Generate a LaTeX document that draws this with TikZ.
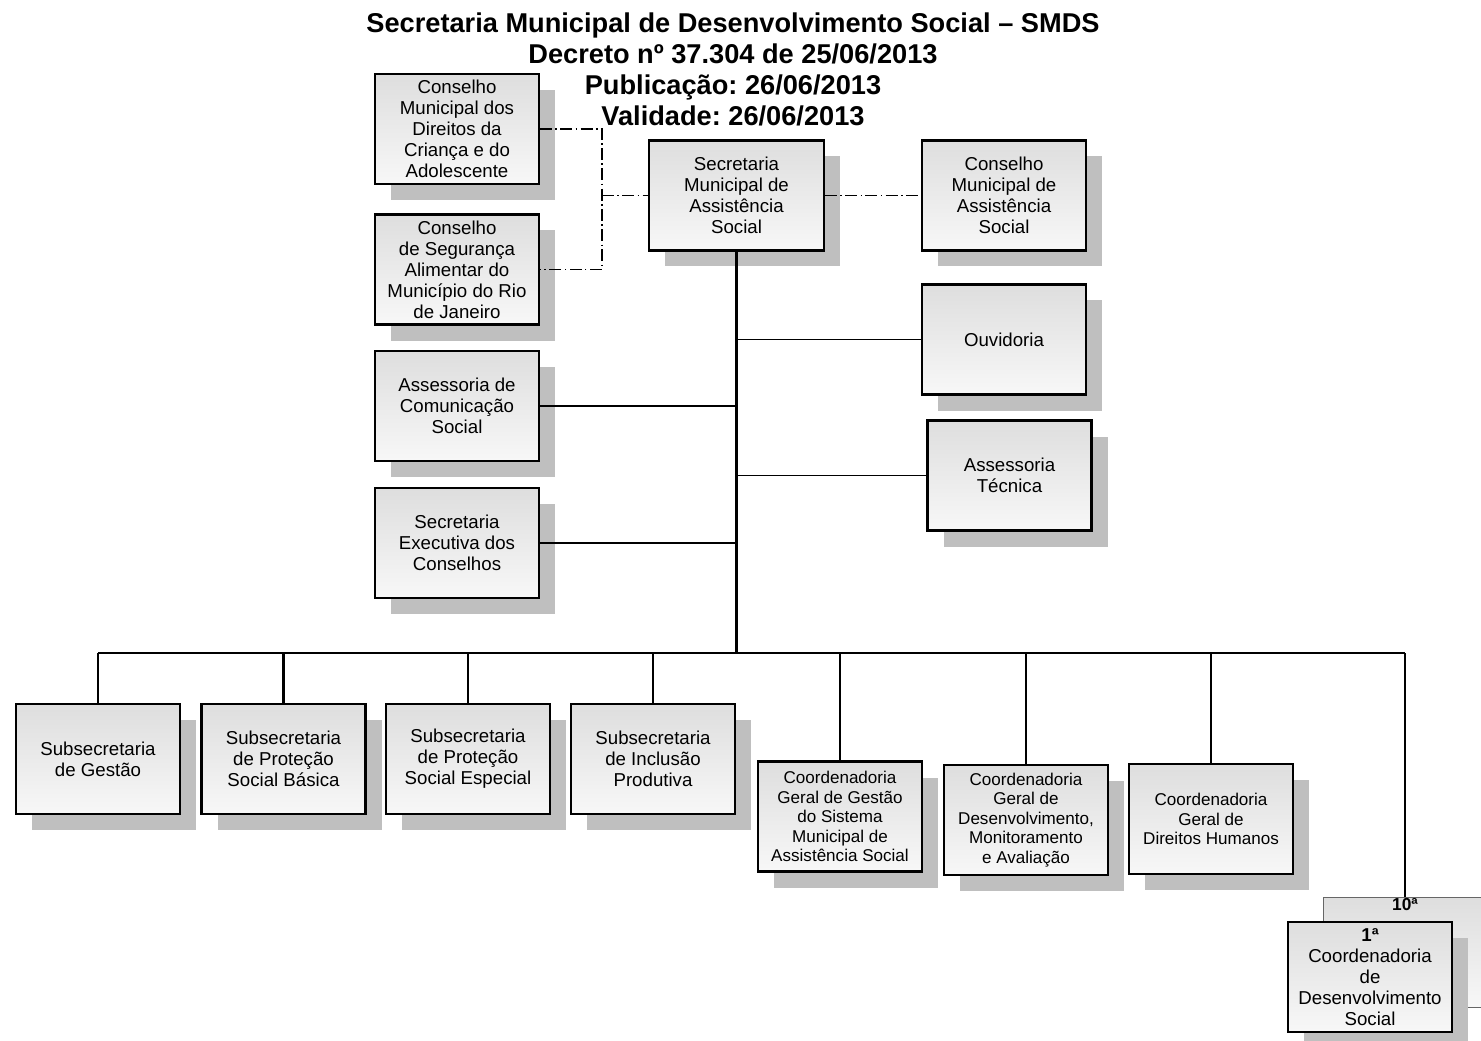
\documentclass[tikz,border=0pt]{standalone}
\usepackage{fontspec}
\setmainfont{Liberation Sans}
\usetikzlibrary{shadows}
\frenchspacing

\begin{document}
\begin{tikzpicture}[x=.75pt,y=-.75pt,
 hop/.style={draw,line width=1.6pt,top color=black!13,bottom color=black!3,
  minimum width=123pt,minimum height=82.5pt,inner sep=1pt,align=center,
  font=\fontsize{14}{15.75}\selectfont},
 khoi/.style={hop,general shadow={fill=black!25,shadow xshift=12pt,shadow yshift=-12pt}},
 nho/.style={font=\fontsize{12.8}{14.6}\selectfont},
 noi/.style={line width=1.8pt},
 nhanh/.style={line width=1.3pt},
 gach/.style={line width=1.4pt,dash pattern=on 9pt off 2.5pt on 1.2pt off 2.5pt}]
 \useasboundingbox (0,0) rectangle (1481,1041);
 \node[align=center,font=\bfseries\fontsize{20.4}{23.25}\selectfont] (tieude) at (733,69)
 {Secretaria Municipal de Desenvolvimento Social – SMDS\\Decreto nº 37.304 de 25/06/2013\\Publicação: 26/06/2013\\Validade: 26/06/2013};
 \path
 (457,129) node[khoi] (cmdca) {Conselho\\Municipal dos\\Direitos da\\Criança e do\\Adolescente} % <<< cột trái
 ++(0,140.5) node[khoi] (consea) {Conselho\\de Segurança\\Alimentar do\\Município do Rio\\de Janeiro}
 ++(0,136.5) node[khoi] (ascom) {Assessoria de\\Comunicação\\Social}
 ++(0,137) node[khoi] (secex) {Secretaria\\Executiva dos\\Conselhos}
 (736.5,195.5) node[khoi,minimum width=131pt] (smas) {Secretaria\\Municipal de\\Assistência\\Social} % <<< giữa
 (1004,195.5) node[khoi] (cmas) {Conselho\\Municipal de\\Assistência\\Social} % <<< cột phải
 ++(0,144) node[khoi] (ouv) {Ouvidoria}
 ++(5.5,136) node[khoi] (astec) {Assessoria\\Técnica};
 \path
 (98,759) node[khoi] (subg) {Subsecretaria\\de Gestão} % <<< hàng dưới
 ++(185.5,0) node[khoi] (subb) {Subsecretaria\\de Proteção\\Social Básica}
 ++(184.5,0) node[khoi] (sube) {Subsecretaria\\de Proteção\\Social Especial}
 ++(185,0) node[khoi] (subi) {Subsecretaria\\de Inclusão\\Produtiva}
 (840,816.5) node[khoi,nho] (cgg) {Coordenadoria\\Geral de Gestão\\do Sistema\\Municipal de\\Assistência Social}
 (1026,820) node[khoi,nho] (cgd) {Coordenadoria\\Geral de\\Desenvolvimento,\\Monitoramento\\e Avaliação}
 (1211,819) node[khoi,nho] (cgdh) {Coordenadoria\\Geral de\\Direitos Humanos}
 (1405,952) node[hop,line width=.6pt,draw=black!60,
  label={[anchor=north,inner sep=1pt,font=\bfseries\fontsize{13}{14}\selectfont]north:10ª}] (cds10) {}
 (1370,977) node[khoi] (cds1) {\textbf{1ª}\\Coordenadoria\\de\\Desenvolvimento\\Social};
 \coordinate (bus) at (736.5,653);
 \coordinate (nut) at (602,195.5);
 \draw[noi] (smas) -- (bus);
 \draw[noi] (bus -| subg) -- (bus -| cds10);
 \foreach \n in {subg,subb,sube,subi,cgg,cgd,cgdh,cds10}
  \draw[noi] (bus -| \n.north) -- (\n.north);
 \foreach \n in {ascom,secex}
  \draw[nhanh] (\n.east) -- (\n.east -| smas);
 \foreach \n in {ouv,astec}
  \draw[nhanh] (\n.west) -- (\n.west -| smas);
 \draw[gach] (cmdca.east) -| (nut) |- (consea.east);
 \draw[gach] (nut) -- (smas.west);
 \draw[gach] (smas.east) -- (cmas.west);
\end{tikzpicture}
\end{document}
